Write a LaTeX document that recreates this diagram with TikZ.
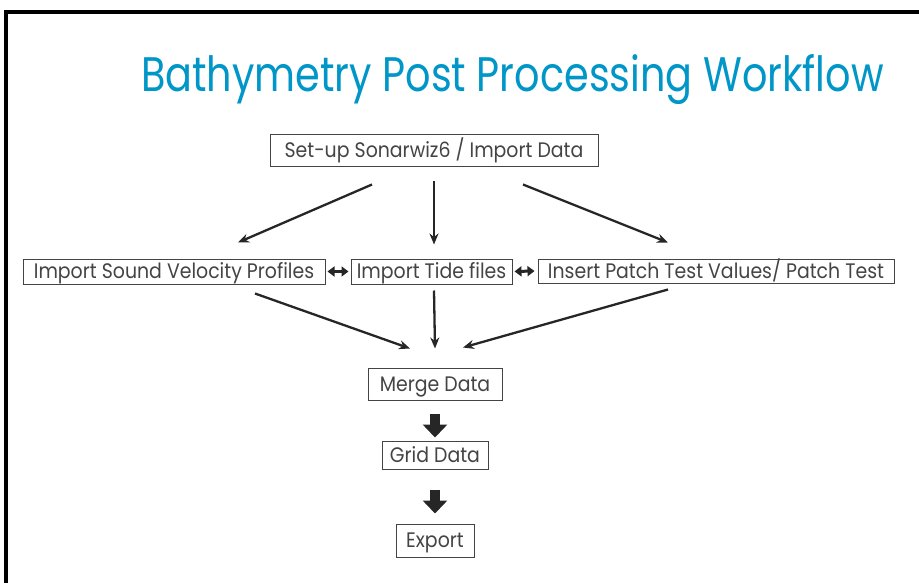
\documentclass[tikz,border=0pt]{standalone}
\usepackage{fontspec}
\setmainfont{Poppins}[FakeStretch=0.9]
\newfontfamily\titlefont{Poppins}[FakeStretch=0.82]
\usetikzlibrary{arrows.meta,positioning}
\definecolor{titleblue}{RGB}{0,150,200}
\definecolor{boxgray}{RGB}{68,68,68}

\begin{document}
\begin{tikzpicture}[x=1pt, y=-1pt,
  box/.style={rectangle, draw=boxgray, line width=1pt, text=boxgray, inner sep=0pt, text height=16pt, text depth=2pt, font=\fontsize{21}{24}\selectfont},
  arrow/.style={-{Stealth[length=11pt,width=9pt]}, line width=2.3pt, draw=black!85},
  dbl/.style={{Triangle[length=7pt,width=10pt]}-{Triangle[length=7pt,width=10pt]}, line width=3pt, draw=black!85},
  fat/.style={-{Triangle[length=13pt,width=24pt]}, line width=10pt, draw=black!85}
]
  \useasboundingbox (0,0) rectangle (919,583);
  % frame
  \draw[line width=4pt] (6,583) -- (6,12.5) -- (919,12.5);

  \node[font=\titlefont\fontsize{48.5}{52}\selectfont, text=titleblue, anchor=base] (title) at (512.5,92) {Bathymetry Post Processing Workflow};

  \node[box, minimum width=328, minimum height=32] (setup) at (434,151) {Set-up Sonarwiz6 / Import Data};
  \node[box, minimum width=302, minimum height=25] (svp) at (174,271.5) {Import Sound Velocity Profiles};
  \node[box, minimum width=161, minimum height=25] (tide) at (431.5,271.5) {Import Tide files};
  \node[box, minimum width=356, minimum height=24] (patch) at (716,271) {Insert Patch Test Values/ Patch Test};
  \node[box, minimum width=134, minimum height=32] (merge) at (435,384) {Merge Data};
  \node[box, minimum width=106, minimum height=28] (grid) at (435,455) {Grid Data};
  \node[box, minimum width=78, minimum height=33] (export) at (435,540.5) {Export};

  \draw[arrow] ([xshift=-62pt,yshift=-17pt]setup.south) -- ([xshift=64pt,yshift=16pt]svp.north);
  \draw[arrow] ([yshift=-14pt]setup.south) -- ([xshift=2.5pt,yshift=14pt]tide.north);
  \draw[arrow] ([xshift=89pt,yshift=-17pt]setup.south) -- ([xshift=-48pt,yshift=16pt]patch.north);

  \draw[arrow] ([xshift=81pt,yshift=-9pt]svp.south) -- ([xshift=-25pt,yshift=19pt]merge.north);
  \draw[arrow] ([xshift=2.5pt,yshift=-6pt]tide.south) -- ([yshift=19pt]merge.north);
  \draw[arrow] ([xshift=-48pt,yshift=-6pt]patch.south) -- ([xshift=28pt,yshift=20pt]merge.north);

  \draw[dbl] ([xshift=2pt]svp.east) -- ([xshift=-2pt]tide.west);
  \draw[dbl] ([xshift=2pt]tide.east) -- ([xshift=-3pt]patch.west);

  \draw[fat] ([yshift=-13pt]merge.south) -- ([yshift=3pt]grid.north);
  \draw[fat] ([yshift=-20pt]grid.south) -- ([yshift=10pt]export.north);
\end{tikzpicture}
\end{document}
